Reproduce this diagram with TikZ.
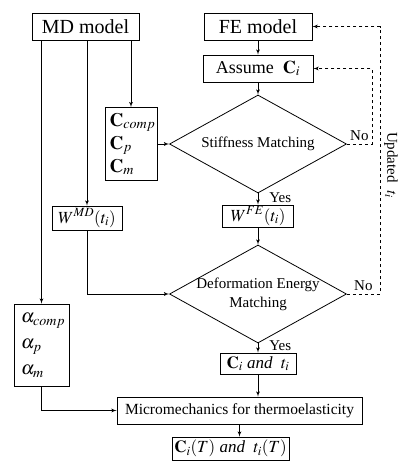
\RequirePackage{fix-cm}
\documentclass[tikz,border=0pt]{standalone}
\usepackage{amsmath}
\usepackage{mathptmx}
\usepackage{fontspec}
\setmainfont{Liberation Serif}
\usepackage{tikz}
\usetikzlibrary{shapes,shapes.geometric,arrows}

\begin{document}
\begin{tikzpicture}[>=latex', x=1pt, y=-1pt, line width=0.8pt]
    \tikzstyle{block} = [draw, shape=rectangle, inner sep=0pt];
    \tikzstyle{model} = [block, minimum height=27pt, font=\fontsize{20}{22}\selectfont];
    \tikzstyle{decision} = [draw, shape=diamond, inner sep=0pt, minimum width=177pt, minimum height=98pt];
    \tikzstyle{inside} = [align=center, font=\fontsize{15}{19}\selectfont];
    \tikzstyle{label} = [font=\fontsize{15}{17}\selectfont, inner sep=1pt];
    \tikzstyle{feedback} = [dashed, ->];
    \useasboundingbox (0,0) rectangle (411,475);

    % Nodes
    \node [model, minimum width=108pt] (fe) at (258,26.5) {FE model};
    \node [model, minimum width=107pt] (md) at (85.5,26.5) {MD model};
    \node [block, below of=fe, node distance=42pt, minimum width=110pt, minimum height=27pt, font=\fontsize{18}{20}\selectfont] (assume) {Assume \ $\mathbf{C}_i$};
    \node [decision, below of=assume, node distance=75.5pt] (stiff) {};
    \node [inside] (stifftext) at (stiff) {Stiffness Matching};
    \node [block, left of=stiff, node distance=127pt, minimum width=52pt, minimum height=73pt, align=left, font=\fontsize{19}{23}\selectfont] (cmat) {\,$\mathbf{C}_{comp}$\\\,$\mathbf{C}_p$\\\,$\mathbf{C}_m$};
    \node [block, below of=stiff, node distance=72pt, minimum width=71pt, minimum height=22pt, font=\fontsize{17}{19}\selectfont] (wfe) {$W^{FE}(t_i)$};
    \node [block, minimum width=70pt, minimum height=24pt, font=\fontsize{17}{19}\selectfont] (wmd) at (87,218) {$W^{MD}(t_i)$};
    \node [decision, below of=wfe, node distance=78pt] (deform) {};
    \node [inside] (deformtext) at (deform) {Deformation Energy\\Matching};
    \node [block, minimum width=55pt, minimum height=82pt, align=left, font=\fontsize{19}{26}\selectfont] (alpha) at (41.5,345) {\,$\alpha_{comp}$\\\,$\alpha_p$\\\,$\alpha_m$};
    \node [block, below of=deform, node distance=69.5pt, minimum width=76pt, minimum height=21pt, font=\fontsize{17}{19}\selectfont] (cit) {$\mathbf{C}_i$ \textit{and} \ $t_i$};
    \node [block, minimum width=245pt, minimum height=27pt, font=\fontsize{15.5}{18}\selectfont] (micro) at (239.5,410.5) {Micromechanics for thermoelasticity};
    \node [block, minimum width=117pt, minimum height=23pt, font=\fontsize{17}{19}\selectfont] (ct) at (230.5,448.5) {$\mathbf{C}_i(T)$ \textit{and} \ $t_i(T)$};
    \node [label, rotate=-90] (updated) at (391,165) {Updated \ $t_i$};

    % Paths
    \draw [->] (md.south -| cmat.north) -- (cmat.north);
    \draw [->] (md.south -| wmd.north) -- (wmd.north);
    \draw [->] (md.south -| alpha.north) -- (alpha.north);
    \draw [->] (cmat.east) -- (stiff.west);
    \draw [->] (fe) -- (assume);
    \draw [->] (assume) -- (stiff.north);
    \draw [->] (stiff.south) -- node [label, right, xshift=10pt, yshift=1pt] (yes1) {Yes} (wfe.north);
    \draw [->] (wfe.south) -- (deform.north);
    \draw [->] (wmd.south) |- (deform.west);
    \draw [->] (deform.south) -- node [label, right, xshift=10pt, yshift=2pt] (yes2) {Yes} (cit.north);
    \draw [->] (cit.south) -- (cit.south |- micro.north);
    \draw [->] (alpha.south) |- (micro.west);
    \draw [->] (micro.south) -- (micro.south |- ct.north);
    \draw [feedback] (stiff.east) -- node [label, above, yshift=2pt] (no1) {No} ++(25,0) |- (assume.east);
    \draw [feedback] (deform.east) -- node [label, above, yshift=2pt] (no2) {No} ++(33,0) |- (fe.east);
\end{tikzpicture}
\end{document}
